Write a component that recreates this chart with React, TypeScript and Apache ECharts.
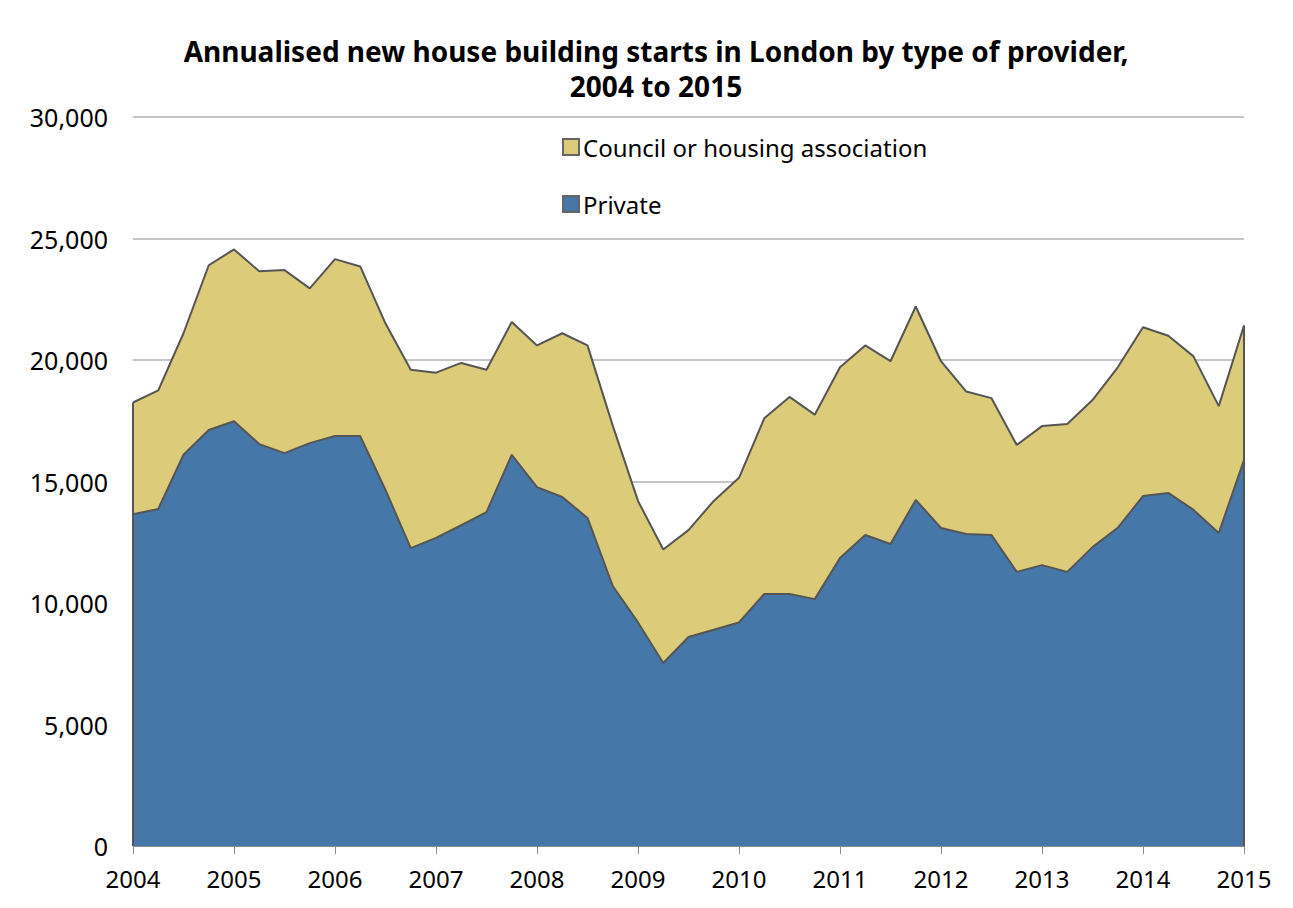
import React, { useEffect, useRef } from "react";
import * as echarts from "echarts";

const quarters: string[] = [];
for (let y = 2004; y <= 2015; y++) {
  for (let q = 1; q <= 4; q++) {
    if (y === 2015 && q > 1) break;
    quarters.push(`${y} Q${q}`);
  }
}

const totalStarts = [
  18250, 18750, 21100, 23900, 24550, 23650, 23700, 22950, 24150, 23850,
  21500, 19600, 19480, 19880, 19600, 21560, 20600, 21100, 20600, 17300,
  14200, 12200, 13000, 14200, 15150, 17600, 18480, 17750, 19700, 20600,
  19950, 22200, 19950, 18700, 18430, 16500, 17280, 17370, 18350, 19700,
  21350, 21000, 20150, 18100, 21420,
];

const privateStarts = [
  13650, 13870, 16100, 17120, 17480, 16540, 16170, 16580, 16870, 16870,
  14650, 12260, 12680, 13200, 13740, 16100, 14770, 14360, 13500, 10700,
  9200, 7530, 8600, 8900, 9200, 10370, 10370, 10160, 11850, 12800,
  12430, 14240, 13090, 12840, 12800, 11280, 11560, 11280, 12300, 13090,
  14400, 14530, 13830, 12880, 15880,
];

const councilStarts = totalStarts.map((t, i) => t - privateStarts[i]);

const yTicks = [0, 5000, 10000, 15000, 20000, 25000, 30000];

export default function App() {
  const ref = useRef<HTMLDivElement>(null);
  useEffect(() => {
    if (!ref.current) return;
    const chart = echarts.init(ref.current, undefined, { renderer: "svg" });
    const font = "'Noto Sans', sans-serif";
    const first = quarters[0];
    const last = quarters[quarters.length - 1];
    const edgeLine = { color: "#555555", width: 2, type: "solid" };
    chart.setOption({
      animation: false,
      backgroundColor: "#ffffff",
      title: {
        text: "Annualised new house building starts in London by type of provider,\n2004 to 2015",
        left: 651,
        textAlign: "center",
        top: 28,
        textStyle: {
          fontFamily: font,
          fontSize: 28,
          fontWeight: "bold",
          color: "#000",
          lineHeight: 35,
        },
      },
      legend: {
        orient: "vertical",
        left: 557,
        top: 130,
        itemWidth: 16,
        itemHeight: 16,
        itemGap: 33,
        icon: "rect",
        data: ["Council or housing association", "Private"],
        textStyle: { fontFamily: font, fontSize: 24, color: "#000", padding: [0, 0, 0, -1] },
      },
      grid: { left: 133, right: 49, top: 117, bottom: 62, containLabel: false },
      xAxis: {
        type: "category",
        boundaryGap: false,
        data: quarters,
        axisLine: { lineStyle: { color: "#8c8c8c", width: 1 } },
        axisTick: { interval: 3, length: 8, lineStyle: { color: "#8c8c8c" } },
        axisLabel: {
          interval: 3,
          formatter: (v: string) => v.slice(0, 4),
          fontFamily: font,
          fontSize: 24,
          color: "#000",
          margin: 20,
        },
        splitLine: { show: false },
      },
      yAxis: {
        type: "value",
        min: 0,
        max: 30000,
        interval: 5000,
        axisLine: { show: false },
        axisTick: { show: false },
        axisLabel: {
          fontFamily: font,
          fontSize: 25,
          color: "#000",
          margin: 25,
          formatter: (v: number) => (yTicks.includes(v) ? v.toLocaleString("en-GB") : ""),
        },
        splitLine: { lineStyle: { color: "#c6c6c6", width: 2 } },
      },
      series: [
        {
          name: "Private",
          type: "line",
          stack: "total",
          data: privateStarts,
          symbol: "none",
          lineStyle: { color: "#555555", width: 2 },
          areaStyle: { color: "#4577a8", opacity: 1 },
          itemStyle: { color: "#4577a8", borderColor: "#666", borderWidth: 1 },
          z: 2,
        },
        {
          name: "Council or housing association",
          type: "line",
          stack: "total",
          data: councilStarts,
          symbol: "none",
          lineStyle: { color: "#555555", width: 2 },
          areaStyle: { color: "#dccb78", opacity: 1 },
          itemStyle: { color: "#dccb78", borderColor: "#666", borderWidth: 1 },
          z: 2,
          markLine: {
            silent: true,
            symbol: "none",
            label: { show: false },
            lineStyle: edgeLine,
            data: [
              [{ coord: [first, 0] }, { coord: [first, totalStarts[0]] }],
              [{ coord: [last, 0] }, { coord: [last, totalStarts[totalStarts.length - 1]] }],
            ],
          },
        },
      ],
    });
    return () => chart.dispose();
  }, []);
  return (
    <div
      style={{
        position: "absolute",
        left: 0,
        top: 0,
        width: 1293,
        height: 908,
        boxSizing: "border-box",
      }}
    >
      <div
        style={{
          position: "absolute",
          left: 3,
          top: 5,
          right: 0,
          bottom: 0,
          border: "1px solid #d9d9d9",
          borderRight: "none",
          borderBottom: "none",
        }}
      />
      <div ref={ref} style={{ position: "absolute", left: 0, top: 0, width: 1293, height: 908 }} />
    </div>
  );
}
